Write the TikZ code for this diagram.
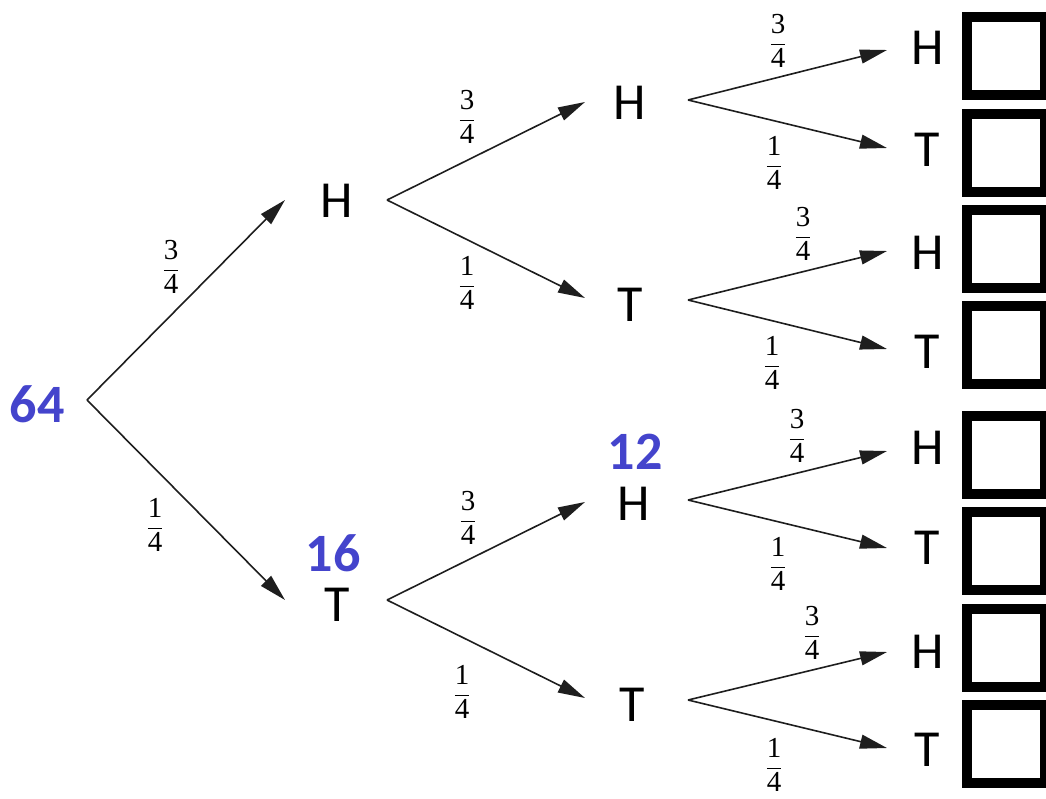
\documentclass[tikz,border=0pt]{standalone}
\usepackage{fontspec}
\newfontfamily\carl{Carlito}
\newfontfamily\libser{Liberation Serif}
\usetikzlibrary{arrows.meta}
\definecolor{numblue}{RGB}{68,68,204}
\definecolor{linegray}{RGB}{30,30,30}
\newcommand{\pfrac}[2]{$\displaystyle\frac{\hbox{\libser #1}}{\hbox{\libser #2}}$}
\tikzset{
  lbl/.style={inner sep=0pt, font=\carl\fontsize{52}{60}\selectfont},
  num/.style={inner sep=0pt, text=numblue, font=\carl\bfseries\fontsize{54}{60}\selectfont},
  frac/.style={inner sep=0pt, font=\fontsize{29}{34}\selectfont},
  arr/.style={draw=linegray, line width=1.6pt, -{Triangle[length=27pt,width=14pt]}},
  ansbox/.style={draw=black, line width=10pt, minimum width=78pt, minimum height=78pt, inner sep=0pt}
}
\begin{document}
\begin{tikzpicture}[x=1pt,y=-1pt]
\useasboundingbox (0,0) rectangle (1046,798);
\clip (0,0) rectangle (1046,798);
% tree nodes
\node[num] (root) at (37,404) {64};
\node[lbl] (H1) at (337,201) {H};
\node[lbl] (T1) at (337,605) {T};
\node[num] (n16) at (333,553) {16};
\node[lbl] (HH) at (630,103) {H};
\node[lbl] (HT) at (630,305) {T};
\node[lbl] (TH) at (634,504) {H};
\node[num] (n12) at (635,452) {12};
\node[lbl] (TT) at (632,705) {T};
\node[lbl] (L1) at (928,48) {H};
\node[lbl] (L2) at (927,150) {T};
\node[lbl] (L3) at (928,253) {H};
\node[lbl] (L4) at (927,352) {T};
\node[lbl] (L5) at (928,448) {H};
\node[lbl] (L6) at (927,548) {T};
\node[lbl] (L7) at (928,652) {H};
\node[lbl] (L8) at (927,750) {T};
% answer boxes
\node[ansbox] (B1) at (1006,56) {};
\node[ansbox] (B2) at (1006,152.5) {};
\node[ansbox] (B3) at (1006,248.5) {};
\node[ansbox] (B4) at (1006,345) {};
\node[ansbox] (B5) at (1006,455) {};
\node[ansbox] (B6) at (1006,551) {};
\node[ansbox] (B7) at (1006,647.5) {};
\node[ansbox] (B8) at (1006,743.5) {};
% connectors
\draw[arr] ([xshift=50pt,yshift=4pt]root.center) -- ([xshift=-52pt,yshift=1pt]H1.center);
\draw[arr] ([xshift=50pt,yshift=4pt]root.center) -- ([xshift=-52pt,yshift=5pt]T1.center);
\draw[arr] ([xshift=50pt,yshift=1pt]H1.center) -- ([xshift=-45pt,yshift=1pt]HH.center);
\draw[arr] ([xshift=50pt,yshift=1pt]H1.center) -- ([xshift=-45pt,yshift=7pt]HT.center);
\draw[arr] ([xshift=50pt,yshift=5pt]T1.center) -- ([xshift=-49pt,yshift=2pt]TH.center);
\draw[arr] ([xshift=50pt,yshift=5pt]T1.center) -- ([xshift=-47pt,yshift=7pt]TT.center);
\draw[arr] ([xshift=58pt,yshift=3pt]HH.center) -- ([xshift=-41pt,yshift=-2pt]L1.center);
\draw[arr] ([xshift=58pt,yshift=3pt]HH.center) -- ([xshift=-40pt,yshift=2pt]L2.center);
\draw[arr] ([xshift=58pt,yshift=5pt]HT.center) -- ([xshift=-41pt,yshift=2pt]L3.center);
\draw[arr] ([xshift=58pt,yshift=5pt]HT.center) -- ([xshift=-40pt,yshift=3pt]L4.center);
\draw[arr] ([xshift=54pt,yshift=4pt]TH.center) -- ([xshift=-41pt,yshift=-3pt]L5.center);
\draw[arr] ([xshift=54pt,yshift=4pt]TH.center) -- ([xshift=-40pt,yshift=0pt]L6.center);
\draw[arr] ([xshift=56pt,yshift=5pt]TT.center) -- ([xshift=-41pt,yshift=0pt]L7.center);
\draw[arr] ([xshift=56pt,yshift=5pt]TT.center) -- ([xshift=-40pt,yshift=2pt]L8.center);
% probability labels
\node[frac] (f1) at (171,267) {\pfrac{3}{4}};
\node[frac] (f2) at (155,525) {\pfrac{1}{4}};
\node[frac] (f3) at (467,117) {\pfrac{3}{4}};
\node[frac] (f4) at (467,283) {\pfrac{1}{4}};
\node[frac] (f5) at (468,518) {\pfrac{3}{4}};
\node[frac] (f6) at (462,692) {\pfrac{1}{4}};
\node[frac] (f7) at (778,41) {\pfrac{3}{4}};
\node[frac] (f8) at (774,163) {\pfrac{1}{4}};
\node[frac] (f9) at (803,234) {\pfrac{3}{4}};
\node[frac] (f10) at (772,363) {\pfrac{1}{4}};
\node[frac] (f11) at (797,436) {\pfrac{3}{4}};
\node[frac] (f12) at (778,564) {\pfrac{1}{4}};
\node[frac] (f13) at (812,633) {\pfrac{3}{4}};
\node[frac] (f14) at (774,765) {\pfrac{1}{4}};
\end{tikzpicture}
\end{document}
